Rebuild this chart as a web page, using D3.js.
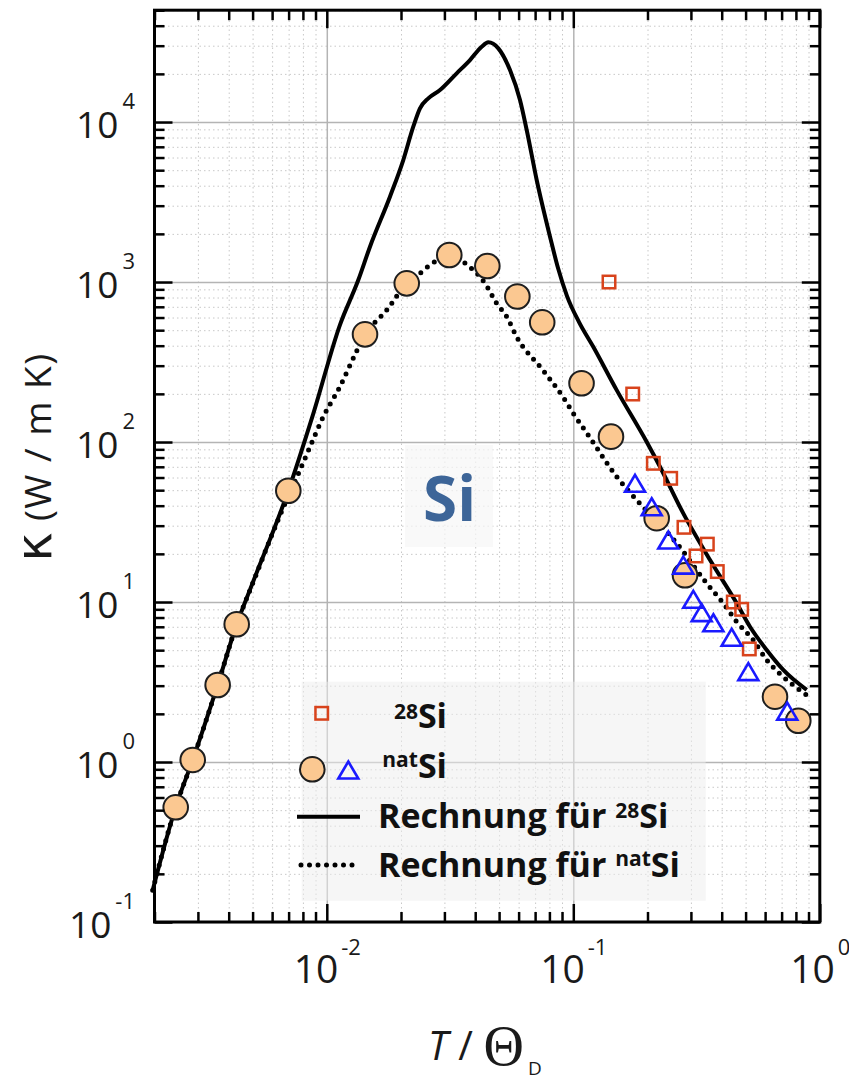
<!DOCTYPE html>
<html><head><meta charset="utf-8">
<script src="https://cdn.jsdelivr.net/npm/d3@7"></script>
<style>body{margin:0;background:#fff} svg{display:block}</style>
</head><body><svg id="c" width="849" height="1082"></svg>
<script>
// ---- data (T/Θ_D, κ in W/mK) ----
const natCircleX = [0.002438,0.002858,0.003608,0.00431,0.00698,0.01429,0.0211,0.0314,0.0448,0.0593,0.0748,0.108,0.1422,0.2179,0.2839,0.658,0.818];
const natCircleY = [0.521,1.03,3.03,7.26,49.6,471,981,1475,1259,812,560,233,108,33.4,14.7,2.56,1.81];
const natTriX = [0.178,0.208,0.2429,0.2794,0.3068,0.3318,0.370,0.439,0.513,0.738];
const natTriY = [55.2,39.4,24.4,17.0,10.4,8.58,7.42,6.02,3.67,2.08];
const si28X = [0.1396,0.1742,0.2112,0.2483,0.2812,0.3497,0.3147,0.3838,0.4457,0.482,0.5176];
const si28Y = [1000,199.5,73.6,59.3,29.3,23.0,19.4,15.5,10.0,9.0,5.09];
const calc28X = [0.001966,0.002438,0.002858,0.003608,0.00431,0.004957,0.00698,0.00881,0.01131,0.01342,0.01497,0.01804,0.02043,0.02243,0.02388,0.02581,0.02879,0.03365,0.0381,0.0425,0.0452,0.04964,0.05536,0.06078,0.06471,0.07104,0.08045,0.0867,0.0943,0.1055,0.1205,0.15,0.1986,0.2247,0.2794,0.3587,0.4603,0.521,0.609,0.711,0.885];
const calc28Y = [0.158,0.523,1.03,3.03,7.26,12.7,49.6,150,540,1029,1662,3414,5788,9346,12176,14067,15849,20160,24410,29560,31480,28880,21130,13725,8913,4340,1920,1223,817,562,394,211,100,70.1,35.8,18.3,9.81,7.0,5.01,3.76,2.82];
const calcNatX = [0.001966,0.002438,0.002858,0.003608,0.00431,0.004957,0.00698,0.00755,0.00855,0.00968,0.01131,0.01322,0.01429,0.0175,0.0211,0.02388,0.02622,0.0316,0.0379,0.04384,0.04887,0.05368,0.0589,0.0755,0.0911,0.1,0.1152,0.15,0.1807,0.2628,0.3475,0.406,0.46,0.537,0.609,0.711,0.885];
const calcNatY = [0.158,0.523,1.03,3.03,7.26,12.6,46,60,93.4,144,222,370,466,668,981,1133,1277,1453,1247,981,736,607,455,280,190,151,110,60.7,43.4,23.3,13.1,9.81,7.53,5.79,4.34,3.41,2.62];
// ---- axis ticks ----
const xMajor = [0.01,0.1,1];
const xExp = ["-2","-1","0"];
const yMajor = [0.1,1,10,100,1000,10000];
const yExp = ["-1","0","1","2","3","4"];
const minorMult = [2,3,4,5,6,7,8,9];

const svg = d3.select('#c');
const m = {l:154.5, r:819.8, t:10.2, b:922};
const x = d3.scaleLog().domain([0.002,1]).range([m.l,m.r]);
const y = d3.scaleLog().domain([0.1,5e4]).range([m.b,m.t]);
const xMinor = [], yMinor = [];
[0.001,0.01,0.1].forEach(d=>minorMult.forEach(k=>{const v=+(k*d).toPrecision(3); if(v>=0.002&&v<1) xMinor.push(v);}));
[0.1,1,10,100,1000,10000].forEach(d=>minorMult.forEach(k=>{const v=+(k*d).toPrecision(3); if(v<=5e4) yMinor.push(v);}));

const ph = m.b-m.t, pw = m.r-m.l;
// grids
function grid(axis, tr, color, dash, w){
  const g = svg.append('g').attr('transform',tr).call(axis);
  g.select('.domain').remove();
  g.selectAll('line').attr('stroke',color).attr('stroke-width',w).attr('stroke-dasharray',dash);
}
grid(d3.axisBottom(x).tickValues(xMinor).tickSize(-ph).tickFormat(''), `translate(0,${m.b})`, '#c8c8c8', '1.5,3', 1);
grid(d3.axisLeft(y).tickValues(yMinor).tickSize(-pw).tickFormat(''), `translate(${m.l},0)`, '#c8c8c8', '1.5,3', 1);
grid(d3.axisBottom(x).tickValues(xMajor).tickSize(-ph).tickFormat(''), `translate(0,${m.b})`, '#b4b4b4', null, 1.5);
grid(d3.axisLeft(y).tickValues(yMajor).tickSize(-pw).tickFormat(''), `translate(${m.l},0)`, '#b4b4b4', null, 1.5);

// Si label box
svg.append('rect').attr('x',405).attr('y',445).attr('width',88).attr('height',102).attr('fill','#f6f6f6').attr('opacity',0.7);
svg.append('text').attr('x',423).attr('y',521).attr('font-family','Open Sans').attr('font-weight',700).attr('font-size',62).attr('fill','#3d6598').text('Si');

// legend box
svg.append('rect').attr('x',301.7).attr('y',681.7).attr('width',404).attr('height',219).attr('fill','#eeeeee').attr('opacity',0.5);

// curves
const line = d3.line().x(d=>x(d[0])).y(d=>y(d[1])).curve(d3.curveMonotoneX);
svg.append('path').datum(calc28X.map((v,i)=>[v,calc28Y[i]])).attr('d',line).attr('fill','none').attr('stroke','#000').attr('stroke-width',4).attr('stroke-linejoin','round');
svg.append('path').datum(calcNatX.map((v,i)=>[v,calcNatY[i]])).attr('d',line).attr('fill','none').attr('stroke','#000').attr('stroke-width',5).attr('stroke-dasharray','0,8.5').attr('stroke-linecap','round');

// markers
const circFill='#fbc891', sqCol='#d8431c', triCol='#1a1aff';
svg.append('g').selectAll('circle').data(natCircleX.map((v,i)=>[v,natCircleY[i]])).join('circle')
  .attr('cx',d=>x(d[0])).attr('cy',d=>y(d[1])).attr('r',12.3).attr('fill',circFill).attr('stroke','#1e1e1e').attr('stroke-width',2);
svg.append('g').selectAll('rect').data(si28X.map((v,i)=>[v,si28Y[i]])).join('rect')
  .attr('x',d=>x(d[0])-6.25).attr('y',d=>y(d[1])-6.25).attr('width',12.5).attr('height',12.5).attr('fill','none').attr('stroke',sqCol).attr('stroke-width',2.5);
const tri = (cx,cy)=>`M${cx},${cy-8.5}L${cx+10},${cy+8.5}L${cx-10},${cy+8.5}Z`;
svg.append('g').selectAll('path').data(natTriX.map((v,i)=>[v,natTriY[i]])).join('path')
  .attr('d',d=>tri(x(d[0]),y(d[1]))).attr('fill','none').attr('stroke',triCol).attr('stroke-width',2.6).attr('stroke-linejoin','miter');

// ticks on four sides
function ticks(axis, tr){
  const g = svg.append('g').attr('transform',tr).call(axis);
  g.select('.domain').remove();
  g.selectAll('line').attr('stroke','#000').attr('stroke-width',2.5);
}
ticks(d3.axisBottom(x).tickValues(xMajor).tickSize(-18).tickFormat(''), `translate(0,${m.b})`);
ticks(d3.axisBottom(x).tickValues(xMinor).tickSize(-10).tickFormat(''), `translate(0,${m.b})`);
ticks(d3.axisTop(x).tickValues(xMajor).tickSize(-18).tickFormat(''), `translate(0,${m.t})`);
ticks(d3.axisTop(x).tickValues(xMinor).tickSize(-10).tickFormat(''), `translate(0,${m.t})`);
ticks(d3.axisLeft(y).tickValues(yMajor).tickSize(-18).tickFormat(''), `translate(${m.l},0)`);
ticks(d3.axisLeft(y).tickValues(yMinor).tickSize(-10).tickFormat(''), `translate(${m.l},0)`);
ticks(d3.axisRight(y).tickValues(yMajor).tickSize(-18).tickFormat(''), `translate(${m.r},0)`);
ticks(d3.axisRight(y).tickValues(yMinor).tickSize(-10).tickFormat(''), `translate(${m.r},0)`);
svg.append('rect').attr('x',m.l).attr('y',m.t).attr('width',pw).attr('height',ph).attr('fill','none').attr('stroke','#000').attr('stroke-width',3);

// tick labels
const yl = svg.append('g').attr('transform','translate(135,0)').call(d3.axisLeft(y).tickValues(yMajor).tickSize(0).tickFormat(''));
yl.select('.domain').remove();
yl.selectAll('.tick').each(function(d,i){
  const t = d3.select(this).append('text').attr('text-anchor','end').attr('y',15).attr('fill','#1a1a1a').attr('font-family','Open Sans');
  t.append('tspan').attr('font-size',37).text('10');
  t.append('tspan').attr('font-size',22).attr('dx',4).attr('dy',-29).text(yExp[i]);
});
const xl = svg.append('g').attr('transform','translate(0,983)').call(d3.axisBottom(x).tickValues(xMajor).tickSize(0).tickFormat(''));
xl.select('.domain').remove();
xl.selectAll('.tick').each(function(d,i){
  const t = d3.select(this).append('text').attr('text-anchor','middle').attr('y',0).attr('fill','#1a1a1a').attr('font-family','Open Sans');
  t.append('tspan').attr('font-size',39).text('10');
  t.append('tspan').attr('font-size',22).attr('dx',3).attr('dy',-28).text(xExp[i]);
});

// axis titles
const yt = svg.append('text').attr('transform','translate(51,457) rotate(-90)').attr('text-anchor','middle').attr('font-family','Open Sans').attr('fill','#1a1a1a');
yt.append('tspan').attr('font-size',50).attr('font-family','DejaVu Sans').text('κ');
yt.append('tspan').attr('font-size',37).attr('letter-spacing',1.5).text(' (W / m K)');
const xt = svg.append('text').attr('x',428).attr('y',1060).attr('font-family','Open Sans').attr('fill','#1a1a1a');
xt.append('tspan').attr('font-size',40).attr('font-style','italic').text('T');
xt.append('tspan').attr('font-size',40).text(' / ');
xt.append('tspan').attr('font-size',56).attr('font-family','Liberation Serif').attr('dy',5).text('Θ');
xt.append('tspan').attr('font-size',19).attr('dx',4).attr('dy',10).text('D');

// legend
const lg = svg.append('g').attr('font-family','Open Sans').attr('font-weight',700).attr('fill','#111');
lg.append('rect').attr('x',321.7-6.25).attr('y',713.3-6.25).attr('width',12.5).attr('height',12.5).attr('fill','none').attr('stroke',sqCol).attr('stroke-width',2.5);
const t1 = lg.append('text').attr('x',447).attr('y',728).attr('text-anchor','end');
t1.append('tspan').attr('font-size',21).attr('dy',-9).text('28');
t1.append('tspan').attr('font-size',34).attr('dy',9).text('Si');
lg.append('circle').attr('cx',312.3).attr('cy',769.3).attr('r',12.3).attr('fill',circFill).attr('stroke','#1e1e1e').attr('stroke-width',2);
lg.append('path').attr('d',tri(348.3,770)).attr('fill','none').attr('stroke',triCol).attr('stroke-width',2.6);
const t2 = lg.append('text').attr('x',447).attr('y',778).attr('text-anchor','end');
t2.append('tspan').attr('font-size',21).attr('dy',-11).text('nat');
t2.append('tspan').attr('font-size',34).attr('dy',11).text('Si');
lg.append('line').attr('x1',297).attr('x2',360).attr('y1',816.7).attr('y2',816.7).attr('stroke','#000').attr('stroke-width',4);
const t3 = lg.append('text').attr('x',378).attr('y',828);
t3.append('tspan').attr('font-size',34).text('Rechnung für ');
t3.append('tspan').attr('font-size',21).attr('dy',-10).text('28');
t3.append('tspan').attr('font-size',34).attr('dy',10).text('Si');
lg.append('line').attr('x1',301).attr('x2',360).attr('y1',865).attr('y2',865).attr('stroke','#000').attr('stroke-width',5).attr('stroke-dasharray','0,8.5').attr('stroke-linecap','round');
const t4 = lg.append('text').attr('x',378).attr('y',877);
t4.append('tspan').attr('font-size',34).text('Rechnung für ');
t4.append('tspan').attr('font-size',21).attr('dy',-11).text('nat');
t4.append('tspan').attr('font-size',34).attr('dy',11).text('Si');
</script></body></html>
